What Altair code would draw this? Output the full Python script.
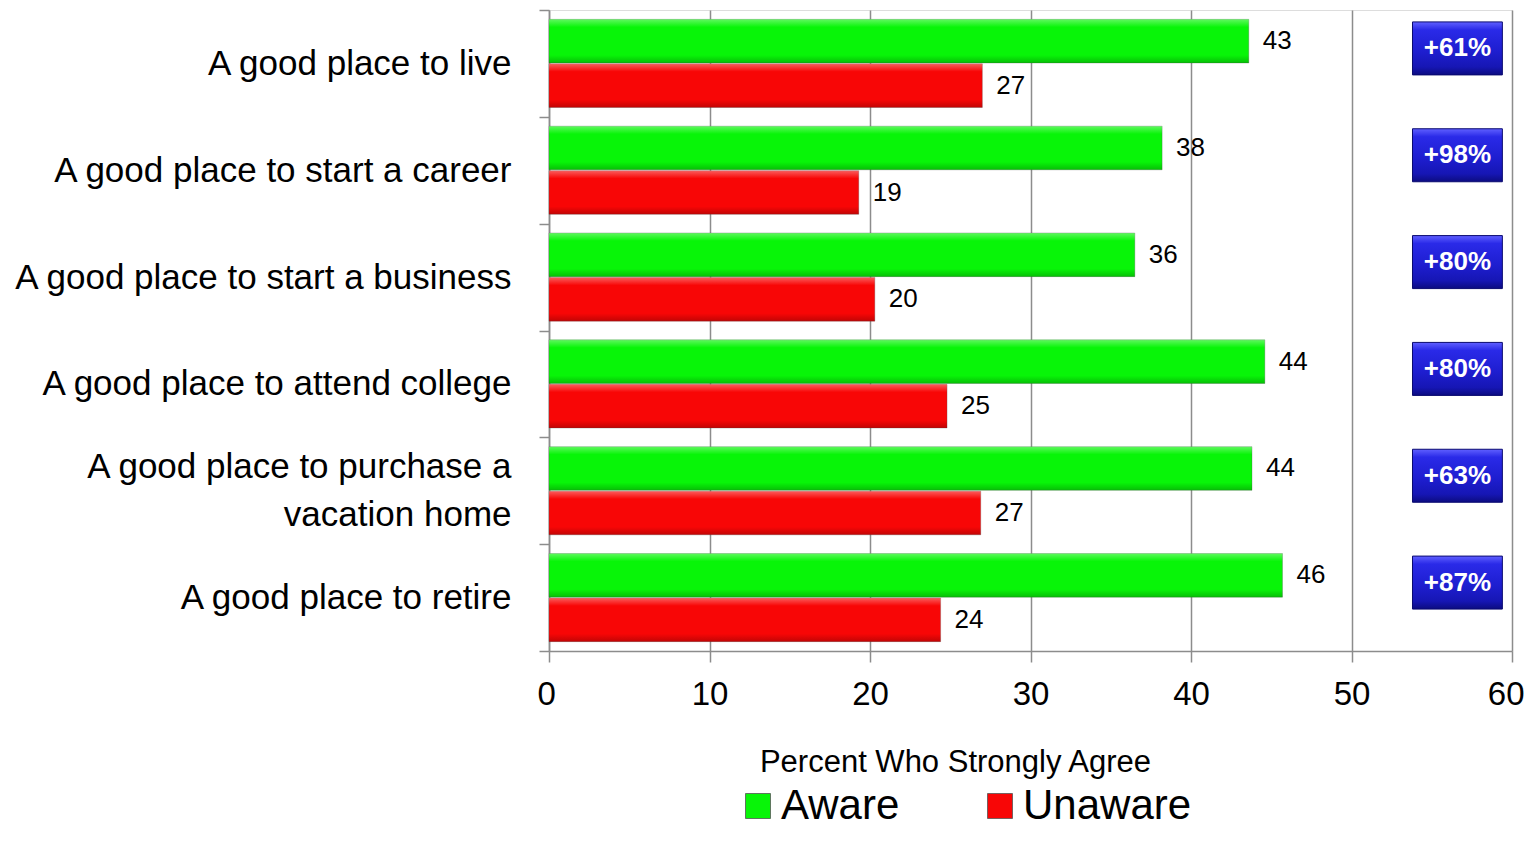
import altair as alt
import pandas as pd

categories = [
    "A good place to live",
    "A good place to start a career",
    "A good place to start a business",
    "A good place to attend college",
    "A good place to purchase a vacation home",
    "A good place to retire",
]
series = ["Aware", "Unaware"]
aware_values = [43.6, 38.2, 36.5, 44.6, 43.8, 45.7]
unaware_values = [27.0, 19.3, 20.3, 24.8, 26.9, 24.4]
aware_labels = ["43", "38", "36", "44", "44", "46"]
unaware_labels = ["27", "19", "20", "25", "27", "24"]
increase_labels = ["+61%", "+98%", "+80%", "+80%", "+63%", "+87%"]
x_ticks = [0, 10, 20, 30, 40, 50, 60]
series_colors = ["#08F508", "#F80606"]

rows = []
for c, a, u, al, ul in zip(categories, aware_values, unaware_values, aware_labels, unaware_labels):
    rows.append({"category": c, "group": "Aware", "value": a, "label": al})
    rows.append({"category": c, "group": "Unaware", "value": u, "label": ul})
bars_df = pd.DataFrame(rows)
box_df = pd.DataFrame({"category": categories, "increase": increase_labels})

ARIAL = "Liberation Sans, Arial, sans-serif"
NBSP = "\u00a0"
TWO_LINE = "A good place to purchase a vacation home"

label_expr = (
    "datum.value == '" + TWO_LINE + "' ? "
    "['A good place to purchase a', 'vacation home" + NBSP * 10 + "'] : datum.value"
)

y_enc = alt.Y(
    "category:N",
    sort=categories,
    scale=alt.Scale(paddingInner=0, paddingOuter=0),
    axis=alt.Axis(
        title=None,
        labelExpr=label_expr,
        labelFont=ARIAL,
        labelFontSize=35,
        labelColor="black",
        labelPadding=28,
        labelLineHeight=48,
        labelLimit=600,
        labelOffset={"condition": {"test": "datum.value == '" + TWO_LINE + "'", "value": -24}, "value": 0},
        tickBand="extent",
        tickSize=10,
        tickColor="#8c8c8c",
        tickWidth=1.5,
        domainColor="#8c8c8c",
        domainWidth=1.5,
        grid=False,
    ),
)

x_scale = alt.Scale(domain=[0, 60], nice=False, zero=True)
x_enc = alt.X(
    "value:Q",
    scale=x_scale,
    axis=alt.Axis(
        title="Percent Who Strongly Agree",
        values=x_ticks,
        format="d",
        labelFlush=True,
        labelFlushOffset=12,
        labelFont=ARIAL,
        labelFontSize=33,
        labelColor="black",
        labelPadding=16,
        tickSize=11,
        tickColor="#8c8c8c",
        tickWidth=1.5,
        domainColor="#8c8c8c",
        domainWidth=1.5,
        grid=True,
        gridColor="#8c8c8c",
        gridWidth=1.5,
        titleFont=ARIAL,
        titleFontSize=31,
        titleFontWeight="normal",
        titleColor="black",
        titleX=406,
        titleY=111,
        titleBaseline="middle",
    ),
)

y_off = alt.YOffset("group:N", sort=series, scale=alt.Scale(paddingInner=0.02, paddingOuter=0.21))

bars = alt.Chart(bars_df).mark_bar(stroke="#555555", strokeWidth=0.6, strokeOpacity=0.5).encode(
    x=x_enc,
    y=y_enc,
    yOffset=y_off,
    color=alt.Color(
        "group:N",
        sort=series,
        scale=alt.Scale(domain=series, range=series_colors),
        legend=alt.Legend(
            title=None,
            orient="none",
            legendX=188,
            legendY=775,
            direction="horizontal",
            symbolType="square",
            symbolSize=625,
            symbolStrokeWidth=0.8,
            symbolStrokeColor="#555555",
            labelFont=ARIAL,
            labelFontSize=42,
            labelColor="black",
            labelOffset=2,
            columnPadding=79,
            padding=0,
            labelLimit=400,
        ),
    ),
)

shade = alt.Chart(bars_df).mark_bar(
    color=alt.LinearGradient(
        gradient="linear",
        stops=[
            alt.GradientStop(color="rgba(255,255,255,0.35)", offset=0),
            alt.GradientStop(color="rgba(255,255,255,0.0)", offset=0.18),
            alt.GradientStop(color="rgba(0,0,0,0.0)", offset=0.82),
            alt.GradientStop(color="rgba(0,0,0,0.22)", offset=1),
        ],
        x1=0, x2=0, y1=0, y2=1,
    )
).encode(x="value:Q", y=alt.Y("category:N", sort=categories), yOffset=y_off)

value_text = alt.Chart(bars_df).mark_text(
    align="left", baseline="middle", dx=14, font=ARIAL, fontSize=26, color="black"
).encode(x="value:Q", y=alt.Y("category:N", sort=categories), yOffset=y_off, text="label:N")

boxes = alt.Chart(box_df).mark_bar(
    size=53,
    yOffset=-15,
    stroke="#0a0a70",
    strokeWidth=1,
    color=alt.LinearGradient(
        gradient="linear",
        stops=[
            alt.GradientStop(color="#6060ff", offset=0),
            alt.GradientStop(color="#2a2ae8", offset=0.15),
            alt.GradientStop(color="#1e1ed0", offset=0.55),
            alt.GradientStop(color="#1616b4", offset=0.85),
            alt.GradientStop(color="#0c0c80", offset=1),
        ],
        x1=0, x2=0, y1=0, y2=1,
    ),
).encode(
    x=alt.datum(53.8),
    x2=alt.datum(59.4),
    y=alt.Y("category:N", sort=categories),
)

box_text = alt.Chart(box_df).mark_text(
    yOffset=-15, align="center", baseline="middle", font=ARIAL, fontSize=26,
    fontWeight="bold", color="white"
).encode(
    x=alt.datum(56.6),
    y=alt.Y("category:N", sort=categories),
    text="increase:N",
)

chart = alt.layer(bars, shade, value_text, boxes, box_text).properties(
    width=963,
    height=641,
    autosize=alt.AutoSizeParams(type="none"),
    padding={"left": 541, "top": 2, "right": 13, "bottom": 178},
).configure_view(stroke=None).configure(background="white")

chart.save("out.html", embed_options={"renderer": "svg", "actions": False})
